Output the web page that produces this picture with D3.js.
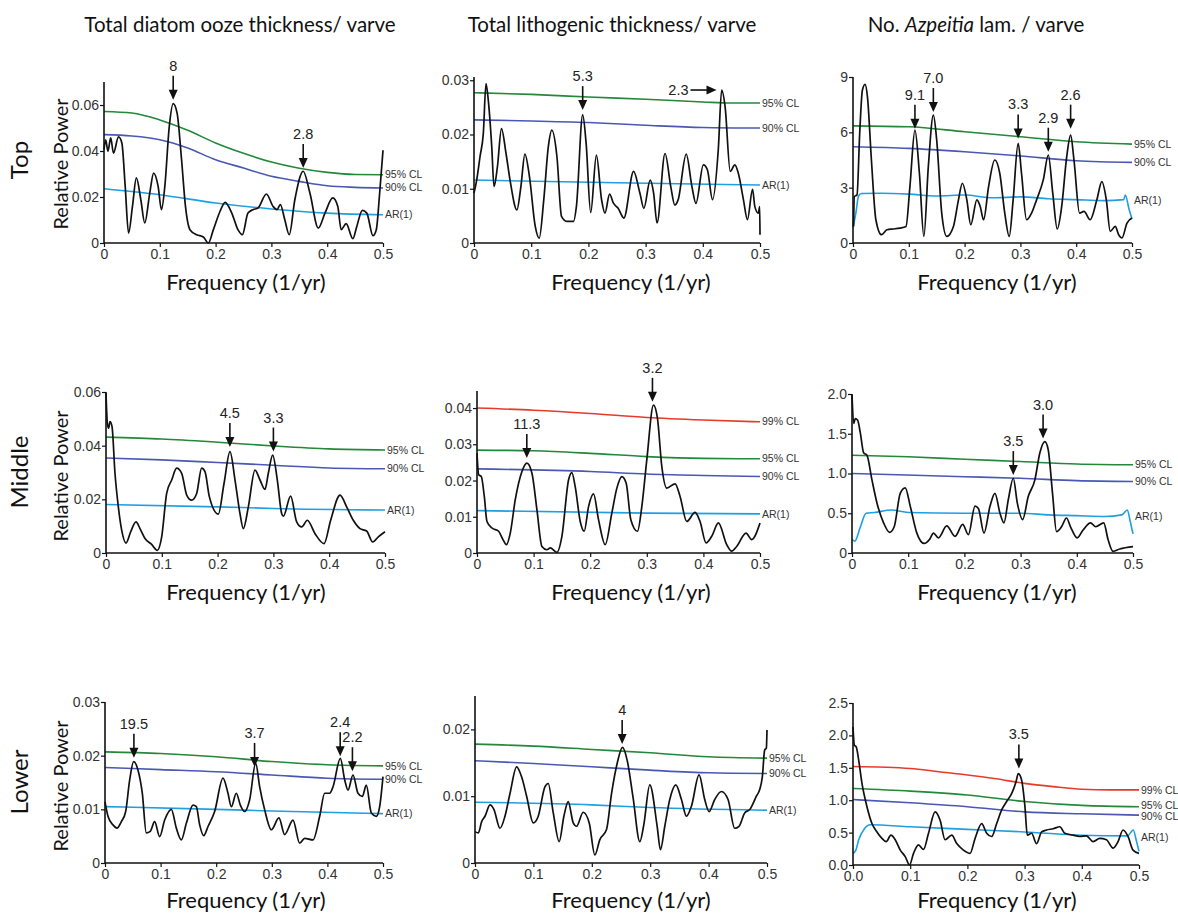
<!DOCTYPE html>
<meta charset="utf-8">
<script src="https://d3js.org/d3.v7.min.js"></script>
<style>
  body { margin: 0; background: #fff; }
  .tick text { font-family: "Liberation Sans", Arial, sans-serif; font-size: 14px; fill: #333; }
  .cl-label { font-family: "Liberation Sans", Arial, sans-serif; font-size: 10.5px; fill: #333; }
  .peak-label { font-family: "Liberation Sans", Arial, sans-serif; font-size: 14.5px; fill: #222; }
  .big { font-family: Lato, "Open Sans", sans-serif; fill: #111; }
</style>
<body>
<div id="chart"></div>
<script>

// ---- spectra: [frequency (1/yr), relative power] ----
var topOoze = [[0,0.0406],[0.003,0.0449],[0.007,0.0399],[0.012,0.0457],[0.017,0.0391],[0.026,0.0461],[0.032,0.0435],[0.038,0.0246],[0.044,0.0043],[0.051,0.0159],[0.058,0.0283],[0.066,0.0188],[0.073,0.0087],[0.082,0.0217],[0.089,0.0304],[0.097,0.0246],[0.103,0.0145],[0.109,0.0246],[0.117,0.0507],[0.124,0.0606],[0.131,0.0565],[0.139,0.0362],[0.146,0.0159],[0.154,0.0058],[0.166,0.0036],[0.178,0.0026],[0.187,0.0],[0.196,0.0058],[0.208,0.0138],[0.217,0.0177],[0.229,0.013],[0.240,0.0058],[0.248,0.0036],[0.258,0.013],[0.267,0.0145],[0.276,0.0152],[0.291,0.0213],[0.303,0.0159],[0.310,0.0145],[0.316,0.0167],[0.324,0.0101],[0.332,0.0036],[0.342,0.0188],[0.357,0.0312],[0.369,0.0217],[0.384,0.0065],[0.396,0.013],[0.410,0.0196],[0.419,0.0159],[0.425,0.0058],[0.434,0.0084],[0.446,0.0019],[0.453,0.0072],[0.463,0.0142],[0.471,0.013],[0.482,0.0032],[0.488,0.0058],[0.494,0.0217],[0.5,0.0403]];
var topOoze95 = [[0,0.0572],[0.05,0.0565],[0.1,0.0535],[0.15,0.049],[0.2,0.0435],[0.25,0.039],[0.3,0.0352],[0.35,0.0325],[0.4,0.0307],[0.45,0.0298],[0.5,0.0297]];
var topOoze90 = [[0,0.0471],[0.05,0.0465],[0.1,0.0449],[0.15,0.0413],[0.2,0.0362],[0.25,0.0326],[0.3,0.029],[0.35,0.0268],[0.4,0.0249],[0.45,0.0242],[0.5,0.0239]];
var topOozeAR = [[0,0.0236],[0.1,0.021],[0.2,0.0174],[0.3,0.0148],[0.4,0.013],[0.5,0.0123]];

var topLitho = [[0,0.0092],[0.0047,0.0116],[0.0105,0.0159],[0.0163,0.0202],[0.021,0.0294],[0.025,0.0263],[0.031,0.0178],[0.035,0.0104],[0.041,0.0141],[0.048,0.0211],[0.056,0.0165],[0.063,0.0116],[0.075,0.0061],[0.082,0.0104],[0.089,0.0164],[0.097,0.0122],[0.107,0.0031],[0.114,0.0009],[0.122,0.008],[0.130,0.0178],[0.136,0.0208],[0.145,0.0159],[0.153,0.0049],[0.162,0.004],[0.174,0.004],[0.179,0.0067],[0.19,0.0236],[0.196,0.0184],[0.204,0.0056],[0.214,0.0162],[0.223,0.008],[0.229,0.0055],[0.237,0.009],[0.244,0.0073],[0.252,0.0064],[0.262,0.0046],[0.279,0.0132],[0.29,0.0092],[0.297,0.0064],[0.308,0.0116],[0.314,0.0092],[0.32,0.0037],[0.334,0.0165],[0.344,0.0104],[0.351,0.007],[0.357,0.008],[0.371,0.0164],[0.381,0.0104],[0.388,0.0073],[0.401,0.0144],[0.408,0.0135],[0.417,0.008],[0.427,0.0171],[0.433,0.0282],[0.439,0.0251],[0.448,0.0132],[0.456,0.0144],[0.462,0.0129],[0.471,0.008],[0.478,0.0043],[0.487,0.0099],[0.491,0.0067],[0.497,0.0055],[0.4995,0.0067],[0.5,0.0015]];
var topLitho95 = [[0,0.0277],[0.1,0.0274],[0.2,0.0269],[0.3,0.0265],[0.4,0.026],[0.45,0.0258],[0.5,0.0258]];
var topLitho90 = [[0,0.0227],[0.1,0.0225],[0.2,0.0222],[0.3,0.0217],[0.4,0.0213],[0.5,0.0212]];
var topLithoAR = [[0,0.0116],[0.25,0.0111],[0.5,0.0107]];

var topAzp = [[0.001,0.9],[0.0024,2.52],[0.0072,2.61],[0.012,5.94],[0.0168,8.28],[0.0216,8.6],[0.026,7.9],[0.033,4.5],[0.041,1.26],[0.051,0.45],[0.061,0.72],[0.072,0.76],[0.084,0.81],[0.095,0.9],[0.102,3.06],[0.111,6.12],[0.119,3.78],[0.127,0.36],[0.135,4.14],[0.144,6.93],[0.15,5.58],[0.159,1.62],[0.168,0.36],[0.18,0.9],[0.189,2.34],[0.196,3.24],[0.204,2.34],[0.211,0.99],[0.222,2.34],[0.228,1.98],[0.234,1.26],[0.243,3.06],[0.254,4.5],[0.263,3.78],[0.272,1.62],[0.28,0.36],[0.287,2.34],[0.296,5.4],[0.302,3.78],[0.311,1.26],[0.32,1.62],[0.329,2.34],[0.341,3.42],[0.35,4.77],[0.358,2.7],[0.366,0.76],[0.374,1.98],[0.383,4.68],[0.39,5.85],[0.396,4.5],[0.406,1.62],[0.414,1.71],[0.425,1.26],[0.437,2.34],[0.446,3.33],[0.454,2.34],[0.461,0.63],[0.47,0.9],[0.476,0.45],[0.482,0.27],[0.491,1.08],[0.5,1.35]];
var topAzp95 = [[0,6.35],[0.1,6.3],[0.2,6.03],[0.3,5.76],[0.4,5.49],[0.5,5.36]];
var topAzp90 = [[0,5.22],[0.1,5.13],[0.2,4.95],[0.3,4.72],[0.4,4.46],[0.5,4.37]];
var topAzpAR = [[0,0.85],[0.005,1.6],[0.01,2.55],[0.015,2.68],[0.05,2.7],[0.1,2.65],[0.15,2.55],[0.2,2.6],[0.25,2.45],[0.3,2.5],[0.35,2.4],[0.4,2.35],[0.45,2.3],[0.485,2.35],[0.488,2.6],[0.495,1.8],[0.5,1.3]];

var midOoze = [[0,0.0596],[0.0024,0.0484],[0.0048,0.0465],[0.0072,0.049],[0.0108,0.0471],[0.0161,0.0297],[0.0221,0.0172],[0.0281,0.0085],[0.0358,0.0037],[0.0442,0.0079],[0.0538,0.0116],[0.0609,0.0091],[0.0699,0.0054],[0.0818,0.0032],[0.092,0.001],[0.0998,0.006],[0.1087,0.0222],[0.1177,0.0272],[0.1266,0.0316],[0.1356,0.0297],[0.1446,0.0216],[0.1535,0.0197],[0.1625,0.0222],[0.1714,0.0316],[0.1774,0.0303],[0.1852,0.021],[0.2013,0.0145],[0.2115,0.0259],[0.2222,0.0378],[0.2312,0.0272],[0.2401,0.0147],[0.2461,0.0091],[0.2551,0.0172],[0.267,0.0309],[0.276,0.0272],[0.2849,0.0237],[0.2909,0.0297],[0.2987,0.0365],[0.307,0.0272],[0.3148,0.0147],[0.3178,0.0137],[0.3309,0.0212],[0.3417,0.0116],[0.3507,0.0097],[0.3608,0.0122],[0.3746,0.0072],[0.3907,0.0035],[0.4026,0.0122],[0.4194,0.0216],[0.4313,0.0172],[0.4432,0.0122],[0.4552,0.0091],[0.4671,0.0082],[0.4779,0.0041],[0.488,0.006],[0.5,0.0079]];
var midOoze95 = [[0,0.0432],[0.1,0.0425],[0.2,0.0413],[0.3,0.0399],[0.4,0.0388],[0.5,0.0384]];
var midOoze90 = [[0,0.0354],[0.1,0.0347],[0.2,0.0337],[0.3,0.0327],[0.4,0.0317],[0.5,0.0314]];
var midOozeAR = [[0,0.0181],[0.2,0.0172],[0.3,0.0166],[0.5,0.016]];

var midLitho = [[0,0.0275],[0.0029,0.0216],[0.0076,0.0211],[0.0129,0.0156],[0.0176,0.0087],[0.0265,0.0069],[0.0382,0.006],[0.0459,0.0037],[0.0518,0.0023],[0.0588,0.0055],[0.0676,0.0147],[0.0794,0.0225],[0.0882,0.0248],[0.0971,0.022],[0.1059,0.0119],[0.1147,0.0018],[0.1235,0.0009],[0.1294,0.0014],[0.1412,0.0002],[0.15,0.0046],[0.1618,0.0202],[0.1676,0.0222],[0.1735,0.0183],[0.1824,0.0087],[0.1894,0.006],[0.1971,0.0128],[0.2059,0.0163],[0.2147,0.0092],[0.2265,0.0023],[0.2382,0.011],[0.2471,0.0179],[0.2559,0.0211],[0.2635,0.0193],[0.2718,0.0092],[0.2835,0.006],[0.2912,0.0128],[0.3,0.0257],[0.3118,0.0408],[0.3188,0.0372],[0.3265,0.0239],[0.3353,0.0179],[0.35,0.0191],[0.3588,0.0156],[0.3706,0.0087],[0.3853,0.0112],[0.3941,0.0087],[0.4047,0.0028],[0.4147,0.0046],[0.4265,0.0083],[0.4412,0.0023],[0.45,0.0005],[0.4588,0.0018],[0.4753,0.0055],[0.4853,0.0037],[0.5,0.0083]];
var midLitho99 = [[0,0.04],[0.1,0.0394],[0.2,0.0385],[0.3,0.0374],[0.4,0.0367],[0.5,0.0362]];
var midLitho95 = [[0,0.0284],[0.1,0.0282],[0.2,0.0275],[0.3,0.0266],[0.4,0.0261],[0.5,0.026]];
var midLitho90 = [[0,0.0232],[0.2,0.0225],[0.3,0.0218],[0.4,0.0214],[0.5,0.0211]];
var midLithoAR = [[0,0.0117],[0.3,0.011],[0.5,0.0108]];

var midAzp = [[0,1.99],[0.003,1.63],[0.0059,1.69],[0.0101,1.67],[0.0148,1.51],[0.0207,1.26],[0.0266,1.23],[0.0355,0.92],[0.0444,0.63],[0.0562,0.38],[0.0669,0.26],[0.0751,0.33],[0.0858,0.75],[0.0947,0.82],[0.1036,0.59],[0.1154,0.25],[0.1284,0.12],[0.1379,0.17],[0.145,0.25],[0.1538,0.19],[0.1686,0.34],[0.1834,0.21],[0.197,0.36],[0.2071,0.23],[0.2189,0.59],[0.2249,0.56],[0.2349,0.25],[0.2456,0.59],[0.2544,0.75],[0.2633,0.5],[0.2704,0.38],[0.2781,0.67],[0.287,0.94],[0.2941,0.63],[0.3036,0.42],[0.3136,0.71],[0.3254,0.92],[0.3343,1.26],[0.3432,1.4],[0.3491,1.3],[0.3568,0.75],[0.3639,0.27],[0.3728,0.33],[0.3817,0.44],[0.3888,0.33],[0.4006,0.19],[0.4112,0.29],[0.4243,0.38],[0.4337,0.33],[0.4479,0.38],[0.4556,0.17],[0.4645,0.02],[0.4763,0.05],[0.5,0.08]];
var midAzp95 = [[0,1.23],[0.1,1.21],[0.2,1.18],[0.3,1.15],[0.4,1.12],[0.5,1.11]];
var midAzp90 = [[0,1.0],[0.2,0.96],[0.3,0.94],[0.4,0.91],[0.5,0.9]];
var midAzpAR = [[0,0.17],[0.005,0.15],[0.015,0.33],[0.025,0.5],[0.04,0.51],[0.07,0.54],[0.1,0.51],[0.2,0.5],[0.3,0.5],[0.35,0.48],[0.4,0.47],[0.45,0.46],[0.48,0.48],[0.49,0.54],[0.495,0.4],[0.5,0.24]];

var lowOoze = [[0,0.0114],[0.0054,0.0087],[0.0144,0.0071],[0.0216,0.0065],[0.0294,0.0077],[0.0372,0.0096],[0.0444,0.0155],[0.0516,0.0189],[0.0594,0.0173],[0.0671,0.013],[0.0743,0.0056],[0.0815,0.0059],[0.0893,0.0077],[0.0983,0.0049],[0.1073,0.008],[0.1193,0.01],[0.1283,0.0065],[0.1373,0.0043],[0.1463,0.0074],[0.1583,0.0108],[0.1643,0.0105],[0.1703,0.0071],[0.1775,0.0051],[0.1853,0.0068],[0.1972,0.0096],[0.2122,0.0158],[0.2212,0.013],[0.2272,0.0105],[0.2362,0.013],[0.2434,0.0108],[0.2512,0.0096],[0.2602,0.0118],[0.271,0.0186],[0.2782,0.0142],[0.2872,0.0099],[0.2992,0.0062],[0.3129,0.0084],[0.3231,0.0053],[0.3381,0.008],[0.3501,0.0037],[0.3591,0.0046],[0.3741,0.0043],[0.3861,0.0087],[0.3951,0.013],[0.4041,0.013],[0.4101,0.0142],[0.4233,0.0195],[0.4311,0.0155],[0.4371,0.0136],[0.446,0.0164],[0.455,0.013],[0.4628,0.0124],[0.47,0.0145],[0.479,0.0093],[0.488,0.0087],[0.494,0.0105],[0.5,0.0161]];
var lowOoze95 = [[0,0.0207],[0.1,0.0204],[0.2,0.0198],[0.3,0.0189],[0.4,0.0183],[0.5,0.0181]];
var lowOoze90 = [[0,0.0178],[0.1,0.0174],[0.2,0.017],[0.3,0.0164],[0.4,0.0158],[0.5,0.0156]];
var lowOozeAR = [[0,0.0105],[0.2,0.01],[0.3,0.0097],[0.5,0.0092]];

var lowLitho = [[0,0.0047],[0.0057,0.0045],[0.0114,0.0062],[0.0171,0.007],[0.0257,0.0087],[0.0325,0.008],[0.0428,0.0052],[0.0513,0.007],[0.0599,0.0104],[0.0713,0.0144],[0.0798,0.0129],[0.0884,0.01],[0.0998,0.006],[0.1083,0.007],[0.1197,0.0114],[0.1254,0.0119],[0.134,0.0075],[0.1442,0.0032],[0.1522,0.007],[0.1596,0.0092],[0.1682,0.006],[0.1739,0.0055],[0.1853,0.0076],[0.1956,0.006],[0.2052,0.0012],[0.2138,0.0035],[0.2252,0.005],[0.2338,0.0104],[0.2434,0.0149],[0.2526,0.0173],[0.2605,0.0154],[0.2708,0.0097],[0.2822,0.0032],[0.289,0.0057],[0.2993,0.0117],[0.3119,0.0055],[0.3175,0.002],[0.325,0.0055],[0.3335,0.0095],[0.3438,0.0117],[0.3535,0.0095],[0.362,0.007],[0.3706,0.0085],[0.3837,0.0132],[0.3934,0.0095],[0.4008,0.0077],[0.4105,0.0095],[0.4219,0.0107],[0.4333,0.0095],[0.4447,0.0052],[0.4521,0.0055],[0.4618,0.0075],[0.4704,0.008],[0.4818,0.01],[0.4875,0.011],[0.492,0.0129],[0.496,0.0169],[0.4989,0.0172],[0.5,0.0199]];
var lowLitho95 = [[0,0.0178],[0.1,0.0175],[0.2,0.017],[0.3,0.0165],[0.4,0.0159],[0.5,0.0157]];
var lowLitho90 = [[0,0.0153],[0.1,0.0149],[0.2,0.0144],[0.3,0.0139],[0.4,0.0135],[0.5,0.0134]];
var lowLithoAR = [[0,0.0091],[0.2,0.0087],[0.3,0.0083],[0.5,0.0079]];

var lowAzp = [[0,2.13],[0.0023,1.85],[0.0058,1.82],[0.0099,1.62],[0.0157,1.26],[0.0244,0.9],[0.0331,0.64],[0.0419,0.51],[0.0506,0.41],[0.0581,0.36],[0.0663,0.46],[0.0738,0.39],[0.0826,0.23],[0.0913,0.13],[0.0988,0.0],[0.1058,0.18],[0.1145,0.31],[0.1233,0.24],[0.132,0.49],[0.1436,0.82],[0.1523,0.69],[0.161,0.39],[0.1727,0.46],[0.1814,0.33],[0.193,0.23],[0.2047,0.18],[0.2134,0.41],[0.225,0.64],[0.2337,0.49],[0.2424,0.44],[0.2512,0.64],[0.2599,0.85],[0.2686,0.98],[0.2773,1.1],[0.2849,1.28],[0.289,1.41],[0.2948,1.31],[0.3006,0.9],[0.3047,0.46],[0.3122,0.49],[0.3209,0.33],[0.3297,0.51],[0.3384,0.54],[0.35,0.56],[0.3616,0.59],[0.3703,0.49],[0.3849,0.46],[0.3965,0.44],[0.4081,0.45],[0.4198,0.36],[0.4314,0.41],[0.443,0.39],[0.4547,0.26],[0.4634,0.36],[0.4721,0.54],[0.4808,0.44],[0.4895,0.23],[0.5,0.18]];
var lowAzp99 = [[0,1.52],[0.1,1.49],[0.15,1.44],[0.2,1.39],[0.25,1.33],[0.3,1.26],[0.35,1.21],[0.4,1.17],[0.45,1.16],[0.5,1.16]];
var lowAzp95 = [[0,1.18],[0.1,1.14],[0.2,1.08],[0.3,0.98],[0.4,0.92],[0.5,0.9]];
var lowAzp90 = [[0,1.01],[0.1,0.96],[0.2,0.9],[0.3,0.82],[0.4,0.79],[0.5,0.77]];
var lowAzpAR = [[0,0.18],[0.005,0.23],[0.01,0.39],[0.02,0.56],[0.03,0.62],[0.1,0.59],[0.2,0.55],[0.3,0.51],[0.4,0.46],[0.48,0.45],[0.49,0.54],[0.495,0.39],[0.5,0.21]];

// ---- labelled peaks: [frequency, arrow tip value, period label] ----
var topOozePeaks = [[0.124, 0.0623, "8"], [0.357, 0.0326, "2.8"]];
var topLithoPeaks = [[0.19, 0.0245, "5.3"]];
var topAzpPeaks = [[0.111, 6.2, "9.1"], [0.144, 7.1, "7.0"], [0.296, 5.67, "3.3"], [0.35, 4.95, "2.9"], [0.39, 6.2, "2.6"]];
var midOozePeaks = [[0.222, 0.0395, "4.5"], [0.30, 0.0378, "3.3"]];
var midLithoPeaks = [[0.088, 0.0262, "11.3"], [0.31, 0.0417, "3.2"]];
var midAzpPeaks = [[0.287, 0.98, "3.5"], [0.34, 1.44, "3.0"]];
var lowOozePeaks = [[0.052, 0.0196, "19.5"], [0.269, 0.0179, "3.7"], [0.423, 0.0199, "2.4"], [0.445, 0.0171, "2.2"]];
var lowLithoPeaks = [[0.252, 0.0178, "4"]];
var lowAzpPeaks = [[0.29, 1.49, "3.5"]];
var sidePeaks = [[0.424, 0.0282, "2.3"]];   // horizontal arrow, top lithogenic

var columnTitles = ["Total diatom ooze thickness/ varve", "Total lithogenic thickness/ varve", "No. Azpeitia lam. / varve"];
var rowNames = ["Top", "Middle", "Lower"];
var xTicks = [0, 0.1, 0.2, 0.3, 0.4, 0.5];

var colors = { "99% CL": "#e8392d", "95% CL": "#23883a", "90% CL": "#4a58b3", "AR(1)": "#1d9fe3" };

var width = 1178, height = 915;
var svg = d3.select("#chart").append("svg")
  .attr("width", width)
  .attr("height", height);

var fmt2 = function(d){ return d === 0 ? "0" : d3.format(".2f")(d); };

// panel layout: pixel box + y axis setup
var panels = [
  { spec: topOoze, cl: [["95% CL", topOoze95], ["90% CL", topOoze90], ["AR(1)", topOozeAR]], peaks: topOozePeaks,
    x: [104, 383], y: [243, 82], ymax: 0.07, yTicks: [0, 0.02, 0.04, 0.06], yfmt: fmt2 },
  { spec: topLitho, cl: [["95% CL", topLitho95], ["90% CL", topLitho90], ["AR(1)", topLithoAR]], peaks: topLithoPeaks, side: sidePeaks,
    x: [474, 760], y: [243, 77], ymax: 0.0306, yTicks: [0, 0.01, 0.02, 0.03], yfmt: fmt2 },
  { spec: topAzp, cl: [["95% CL", topAzp95], ["90% CL", topAzp90], ["AR(1)", topAzpAR]], peaks: topAzpPeaks,
    x: [853, 1132], y: [243, 77], ymax: 9, yTicks: [0, 3, 6, 9], yfmt: d3.format("d") },
  { spec: midOoze, cl: [["95% CL", midOoze95], ["90% CL", midOoze90], ["AR(1)", midOozeAR]], peaks: midOozePeaks,
    x: [106, 385], y: [553, 392], ymax: 0.06, yTicks: [0, 0.02, 0.04, 0.06], yfmt: fmt2 },
  { spec: midLitho, cl: [["99% CL", midLitho99], ["95% CL", midLitho95], ["90% CL", midLitho90], ["AR(1)", midLithoAR]], peaks: midLithoPeaks,
    x: [477, 760], y: [553, 391], ymax: 0.0447, yTicks: [0, 0.01, 0.02, 0.03, 0.04], yfmt: fmt2 },
  { spec: midAzp, cl: [["95% CL", midAzp95], ["90% CL", midAzp90], ["AR(1)", midAzpAR]], peaks: midAzpPeaks,
    x: [852, 1133], y: [553, 394], ymax: 2, yTicks: [0, 0.5, 1, 1.5, 2], yfmt: function(d){ return d === 0 ? "0" : d3.format(".1f")(d); } },
  { spec: lowOoze, cl: [["95% CL", lowOoze95], ["90% CL", lowOoze90], ["AR(1)", lowOozeAR]], peaks: lowOozePeaks,
    x: [105, 383], y: [863, 702], ymax: 0.03, yTicks: [0, 0.01, 0.02, 0.03], yfmt: fmt2 },
  { spec: lowLitho, cl: [["95% CL", lowLitho95], ["90% CL", lowLitho90], ["AR(1)", lowLithoAR]], peaks: lowLithoPeaks,
    x: [475, 767], y: [863, 696], ymax: 0.025, yTicks: [0, 0.01, 0.02], yfmt: fmt2 },
  { spec: lowAzp, cl: [["99% CL", lowAzp99], ["95% CL", lowAzp95], ["90% CL", lowAzp90], ["AR(1)", lowAzpAR]], peaks: lowAzpPeaks,
    x: [853, 1139], y: [865, 703], ymax: 2.5, yTicks: [0, 0.5, 1, 1.5, 2, 2.5], yfmt: d3.format(".1f"), xfmt: d3.format(".1f") }
];

panels.forEach(function(p, i) {
  var x = d3.scaleLinear().domain([0, 0.5]).range(p.x);
  var y = d3.scaleLinear().domain([0, p.ymax]).range(p.y);
  var g = svg.append("g");

  var line = d3.line()
    .x(function(d){ return x(d[0]); })
    .y(function(d){ return y(d[1]); })
    .curve(d3.curveMonotoneX);

  // confidence levels
  var labelY = [];
  p.cl.forEach(function(c) {
    g.append("path")
      .attr("d", line(c[1]))
      .attr("fill", "none")
      .attr("stroke", colors[c[0]])
      .attr("stroke-width", 1.6);
    // label sits at the line's level near the right edge (ignoring the end drop)
    var tail = c[1].filter(function(d){ return d[0] >= 0.45; }).map(function(d){ return d[1]; });
    labelY.push({ name: c[0], x: x(0.5) + 2, y: y(d3.median(tail)) });
  });
  // keep CL labels from touching each other
  labelY.sort(function(a, b){ return a.y - b.y; });
  for (var k = 1; k < labelY.length; k++) {
    var gap = labelY[k].y - labelY[k - 1].y;
    if (gap < 11) {
      var shift = (11 - gap) / 2;
      labelY[k - 1].y -= shift;
      labelY[k].y += shift;
    }
  }
  labelY.forEach(function(l) {
    g.append("text")
      .attr("class", "cl-label")
      .attr("x", l.x)
      .attr("y", l.y)
      .attr("dy", "0.35em")
      .text(l.name);
  });

  // spectrum
  g.append("path")
    .attr("d", line(p.spec))
    .attr("fill", "none")
    .attr("stroke", "#111")
    .attr("stroke-width", 1.7);

  // axes
  var xAxis = d3.axisBottom(x).tickValues(xTicks).tickSize(4).tickPadding(2)
    .tickFormat(p.xfmt || function(d){ return d === 0 ? "0" : d3.format(".1f")(d); });
  var yAxis = d3.axisLeft(y).tickValues(p.yTicks).tickSize(4).tickPadding(1).tickFormat(p.yfmt);

  var gx = g.append("g").attr("transform", "translate(0," + p.y[0] + ")").call(xAxis);
  var gy = g.append("g").attr("transform", "translate(" + p.x[0] + ",0)").call(yAxis);
  [gx, gy].forEach(function(a) {
    a.select(".domain").attr("stroke", "#111").attr("stroke-width", 1.6);
    a.selectAll(".tick line").attr("stroke", "#111").attr("stroke-width", 1.2);
  });
  gy.select(".domain").attr("d", "M0," + p.y[0] + "V" + p.y[1]);
  gx.select(".domain").attr("d", "M" + p.x[0] + ",0H" + p.x[1]);

  // peak arrows
  p.peaks.forEach(function(k) {
    var px = x(k[0]), py = y(k[1]), len = 24;
    g.append("line")
      .attr("x1", px).attr("x2", px)
      .attr("y1", py - len).attr("y2", py - 6)
      .attr("stroke", "#111").attr("stroke-width", 1.6);
    g.append("path")
      .attr("d", "M" + (px - 4.5) + "," + (py - 10) + "L" + (px + 4.5) + "," + (py - 10) + "L" + px + "," + py + "Z")
      .attr("fill", "#111");
    g.append("text")
      .attr("class", "peak-label")
      .attr("x", px)
      .attr("y", py - len - 5)
      .attr("text-anchor", "middle")
      .text(k[2]);
  });

  (p.side || []).forEach(function(k) {
    var px = x(k[0]), py = y(k[1]), len = 26;
    g.append("line")
      .attr("x1", px - len).attr("x2", px - 6)
      .attr("y1", py).attr("y2", py)
      .attr("stroke", "#111").attr("stroke-width", 1.6);
    g.append("path")
      .attr("d", "M" + (px - 10) + "," + (py - 4.5) + "L" + (px - 10) + "," + (py + 4.5) + "L" + px + "," + py + "Z")
      .attr("fill", "#111");
    g.append("text")
      .attr("class", "peak-label")
      .attr("x", px - len - 2)
      .attr("y", py)
      .attr("dy", "0.35em")
      .attr("text-anchor", "end")
      .text(k[2]);
  });
});

// column titles
var titleX = [240, 612, 976];
columnTitles.forEach(function(t, i) {
  var txt = svg.append("text")
    .attr("class", "big")
    .attr("x", titleX[i])
    .attr("y", 32)
    .attr("text-anchor", "middle")
    .style("font-size", "20.5px");
  if (i === 2) {
    txt.append("tspan").text("No. ");
    txt.append("tspan").style("font-style", "italic").text("Azpeitia");
    txt.append("tspan").text(" lam. / varve");
  } else {
    txt.text(t);
  }
});

// row labels, y labels, x labels
var rowCenter = [160, 472, 782];
var xLabelBase = [290, 600, 908];
var xLabelX = [246, 631, 997];
rowNames.forEach(function(r, i) {
  svg.append("text")
    .attr("class", "big")
    .attr("transform", "translate(28," + rowCenter[i] + ") rotate(-90)")
    .attr("text-anchor", "middle")
    .style("font-size", "24px")
    .text(r);
  svg.append("text")
    .attr("class", "big")
    .attr("transform", "translate(68," + (rowCenter[i] + 4) + ") rotate(-90)")
    .attr("text-anchor", "middle")
    .style("font-size", "20px")
    .text("Relative Power");
  xLabelX.forEach(function(cx) {
    svg.append("text")
      .attr("class", "big")
      .attr("x", cx)
      .attr("y", xLabelBase[i])
      .attr("text-anchor", "middle")
      .style("font-size", "22px")
      .text("Frequency (1/yr)");
  });
});

</script>
</body>
